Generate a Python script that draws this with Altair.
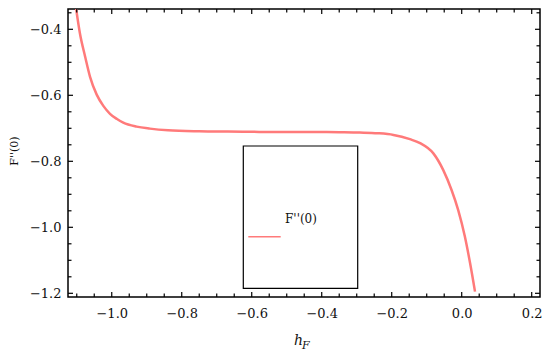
import altair as alt
import pandas as pd

# ---- data ----
hF = [-1.102, -1.091, -1.076, -1.062, -1.043, -1.024, -1.005, -0.985, -0.967, -0.929,
      -0.891, -0.839, -0.75, -0.668, -0.55, -0.45, -0.35, -0.291, -0.24,
      -0.195, -0.148, -0.119, -0.081, -0.053, -0.029, -0.010, 0.009, 0.024, 0.038]
Fpp0 = [-0.336, -0.412, -0.483, -0.544, -0.598, -0.632, -0.656, -0.672, -0.683, -0.695,
        -0.701, -0.706, -0.709, -0.710, -0.711, -0.711, -0.712, -0.713, -0.715,
        -0.720, -0.733, -0.745, -0.776, -0.826, -0.887, -0.948, -1.028, -1.109, -1.195]

x_major = [-1.0, -0.8, -0.6, -0.4, -0.2, 0.0, 0.2]
x_minor = [-1.1, -1.05, -0.95, -0.9, -0.85, -0.75, -0.7, -0.65, -0.55, -0.5,
           -0.45, -0.35, -0.3, -0.25, -0.15, -0.1, -0.05, 0.05, 0.1, 0.15]
y_major = [-0.4, -0.6, -0.8, -1.0, -1.2]
y_minor = [-0.35, -0.45, -0.5, -0.55, -0.65, -0.7, -0.75, -0.85, -0.9, -0.95,
           -1.05, -1.1, -1.15]

x_domain = [-1.125, 0.2237]
y_domain = [-1.2112, -0.3385]

W, H = 472, 288
MAJ, MIN = 5, 3.5
serif = "DejaVu Serif"
red = "#ff7a7a"

curve = pd.DataFrame({"x": hF, "y": Fpp0})
xs = alt.Scale(domain=x_domain, nice=False, zero=False)
ys = alt.Scale(domain=y_domain, nice=False, zero=False)

base = alt.Chart(curve).mark_line(color=red, strokeWidth=2.5, interpolate="monotone", clip=True).encode(
    x=alt.X("x:Q", scale=xs,
            axis=alt.Axis(values=x_major, format=".1f", title=None, ticks=False, tickSize=0,
                          domain=False, grid=False, labelPadding=10, labelFont=serif,
                          labelFontSize=13, labelColor="#111")),
    y=alt.Y("y:Q", scale=ys,
            axis=alt.Axis(values=y_major, format=".1f", title=None, ticks=False, tickSize=0,
                          domain=False, grid=False, labelPadding=7, labelFont=serif,
                          labelFontSize=13, labelColor="#111")),
)

def xticks(vals, length):
    df = pd.DataFrame({"v": vals})
    bot = alt.Chart(df).mark_rule(color="black", strokeWidth=1.2).encode(
        x=alt.X("v:Q", scale=xs), y=alt.value(H), y2=alt.value(H - length))
    top = alt.Chart(df).mark_rule(color="black", strokeWidth=1.2).encode(
        x=alt.X("v:Q", scale=xs), y=alt.value(0), y2=alt.value(length))
    return [bot, top]

def yticks(vals, length):
    df = pd.DataFrame({"v": vals})
    left = alt.Chart(df).mark_rule(color="black", strokeWidth=1.2).encode(
        y=alt.Y("v:Q", scale=ys), x=alt.value(0), x2=alt.value(length))
    right = alt.Chart(df).mark_rule(color="black", strokeWidth=1.2).encode(
        y=alt.Y("v:Q", scale=ys), x=alt.value(W), x2=alt.value(W - length))
    return [left, right]

one = pd.DataFrame({"label": ["F''(0)"]})

legend_box = alt.Chart(one).mark_rect(fill=None, stroke="black", strokeWidth=1.2).encode(
    x=alt.value(175.3), x2=alt.value(289.7), y=alt.value(137), y2=alt.value(279.3))
legend_line = alt.Chart(one).mark_rule(color=red, strokeWidth=1.5).encode(
    x=alt.value(180.3), x2=alt.value(212.7), y=alt.value(227.7))
legend_text = alt.Chart(one).mark_text(font=serif, fontSize=12, align="left",
                                       baseline="middle", color="#111").encode(
    text="label:N", x=alt.value(217), y=alt.value(210))

ytitle = alt.Chart(one).mark_text(font=serif, fontSize=11, angle=270, align="center",
                                  baseline="middle", color="#111").encode(
    text="label:N", x=alt.value(-53), y=alt.value(142))
xt = pd.DataFrame({"h": ["h"], "F": ["F"]})
xtitle_h = alt.Chart(xt).mark_text(font=serif, fontSize=14, fontStyle="italic", align="left",
                                   baseline="alphabetic", color="#111").encode(
    text="h:N", x=alt.value(226), y=alt.value(336))
xtitle_F = alt.Chart(xt).mark_text(font=serif, fontSize=11, fontStyle="italic", align="left",
                                   baseline="alphabetic", color="#111").encode(
    text="F:N", x=alt.value(234), y=alt.value(340))

layers = [base] + xticks(x_major, MAJ) + xticks(x_minor, MIN) + yticks(y_major, MAJ) + yticks(y_minor, MIN)
layers += [legend_box, legend_line, legend_text, ytitle, xtitle_h, xtitle_F]

chart = alt.layer(*layers).properties(
    width=W, height=H,
    autosize=alt.AutoSizeParams(type="none"),
    padding={"left": 60, "top": 1, "right": 2, "bottom": 58},
).configure_view(stroke="black", strokeWidth=1.5)

chart.save("out.html", embed_options={"renderer": "svg", "actions": False})
